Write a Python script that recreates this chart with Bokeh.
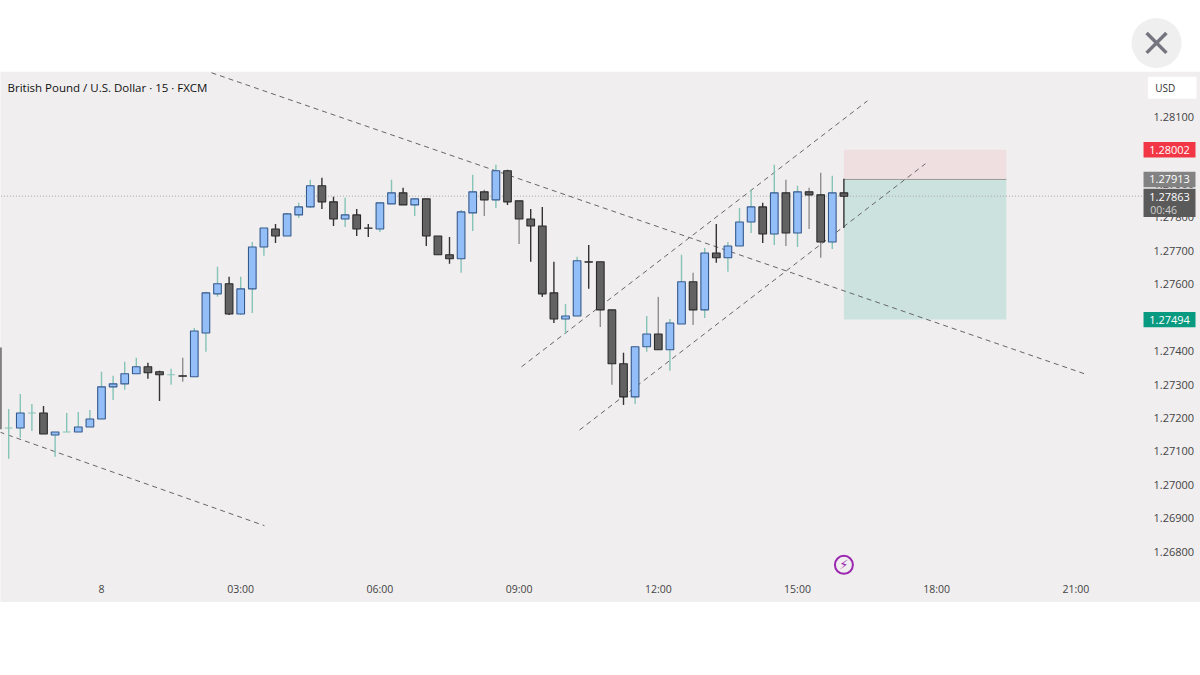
from bokeh.plotting import figure
from bokeh.models import LinearAxis, FixedTicker, Range1d, NumeralTickFormatter
from bokeh.core.properties import value
from bokeh.embed import file_html
from bokeh.resources import INLINE

# Candles: 15-minute bars, index 0 is the "8" day label, each step is 15 minutes
first_bar = -9
opens = [1.27410,1.27170,1.27170,1.27215,1.27215,1.27149,1.27158,1.27158,1.27173,1.27197,
         1.27293,1.27302,1.27332,1.27353,1.27338,1.27329,1.27326,1.27323,1.27454,1.27571,
         1.27601,1.27511,1.27586,1.27711,1.27765,1.27744,1.27807,1.27831,1.27894,1.27846,
         1.27795,1.27807,1.27768,1.27765,1.27840,1.27873,1.27837,1.27855,1.27744,1.27688,
         1.27676,1.27813,1.27876,1.27852,1.27939,1.27849,1.27795,1.27774,1.27574,1.27496,
         1.27505,1.27667,1.27667,1.27523,1.27362,1.27263,1.27413,1.27451,1.27404,1.27481,
         1.27607,1.27523,1.27693,1.27679,1.27714,1.27786,1.27831,1.27750,1.27873,1.27753,
         1.27876,1.27867,1.27726,1.27873]
highs = [1.27410,1.27227,1.27272,1.27242,1.27236,1.27158,1.27215,1.27218,1.27224,1.27338,
         1.27326,1.27368,1.27380,1.27365,1.27341,1.27347,1.27380,1.27469,1.27577,1.27652,
         1.27622,1.27622,1.27726,1.27768,1.27780,1.27813,1.27843,1.27912,1.27918,1.27861,
         1.27858,1.27825,1.27780,1.27843,1.27912,1.27888,1.27855,1.27855,1.27744,1.27741,
         1.27822,1.27927,1.27882,1.27957,1.27942,1.27849,1.27825,1.27831,1.27667,1.27541,
         1.27682,1.27717,1.27667,1.27523,1.27395,1.27413,1.27505,1.27562,1.27496,1.27688,
         1.27634,1.27708,1.27780,1.27726,1.27828,1.27882,1.27843,1.27957,1.27912,1.27894,
         1.27888,1.27933,1.27924,1.27915]
lows = [1.27167,1.27078,1.27141,1.27161,1.27152,1.27084,1.27158,1.27158,1.27173,1.27197,
        1.27254,1.27284,1.27332,1.27317,1.27251,1.27299,1.27308,1.27323,1.27398,1.27562,
        1.27508,1.27508,1.27514,1.27685,1.27723,1.27744,1.27798,1.27828,1.27825,1.27774,
        1.27771,1.27744,1.27741,1.27756,1.27840,1.27837,1.27804,1.27714,1.27688,1.27661,
        1.27634,1.27759,1.27804,1.27828,1.27837,1.27720,1.27667,1.27562,1.27484,1.27451,
        1.27505,1.27586,1.27472,1.27299,1.27239,1.27242,1.27398,1.27404,1.27341,1.27481,
        1.27478,1.27499,1.27664,1.27637,1.27714,1.27753,1.27723,1.27717,1.27714,1.27711,
        1.27765,1.27679,1.27705,1.27768]
closes = [1.27167,1.27170,1.27215,1.27215,1.27152,1.27158,1.27158,1.27173,1.27197,1.27293,
          1.27302,1.27332,1.27353,1.27335,1.27329,1.27329,1.27325,1.27460,1.27574,1.27601,
          1.27511,1.27586,1.27711,1.27768,1.27744,1.27810,1.27831,1.27894,1.27846,1.27795,
          1.27807,1.27765,1.27767,1.27843,1.27873,1.27837,1.27855,1.27744,1.27688,1.27676,
          1.27816,1.27876,1.27852,1.27939,1.27846,1.27795,1.27774,1.27571,1.27496,1.27505,
          1.27670,1.27666,1.27523,1.27362,1.27263,1.27413,1.27451,1.27404,1.27484,1.27607,
          1.27523,1.27693,1.27679,1.27714,1.27786,1.27831,1.27750,1.27873,1.27753,1.27876,
          1.27867,1.27726,1.27873,1.27863]
faded_wicks = [7, 33, 36, 43, 44, 48, 51, 59, 61, 62]

price_ticks = [1.268,1.269,1.270,1.271,1.272,1.273,1.274,1.275,1.276,1.277,1.278,1.279,1.280,1.281]
time_ticks = [0, 12, 24, 36, 48, 60, 72, 84]
time_labels = ["8", "03:00", "06:00", "09:00", "12:00", "15:00", "18:00", "21:00"]

title_text = "British Pound / U.S. Dollar · 15 · FXCM"
last_price = 1.27863
countdown = "00:46"
stop_price = 1.28002
entry_price = 1.27913
target_price = 1.27494
position_start, position_end = 64, 78

trend_x = [[9.48, 85.0], [-8.79, 14.05], [36.21, 66.03], [41.21, 71.03]]
trend_y = [[1.28232, 1.27329], [1.27158, 1.26878], [1.27353, 1.28148], [1.27164, 1.27960]]

# Layout
X0, X1 = -8.707, 94.741
Y0, Y1 = 1.26454, 1.28448
BAND_TOP, BAND_BOTTOM = 1.28235, 1.26650
AXIS_X = 90.0
TAG_L, TAG_R, TAG_MID, TAG_H = 89.83, 94.31, 92.07, 0.00023

BG = "#f0eeef"
UP, UP_EDGE, UP_WICK = "#93bef7", "#355a8c", "#86c4b8"
DN, DN_EDGE, DN_WICK, DN_FADE = "#626262", "#2a2a2a", "#333333", "#8f8f8f"
FONT = "Open Sans"

p = figure(width=1200, height=667, output_backend="svg", toolbar_location=None,
           x_range=Range1d(X0, X1), y_range=Range1d(Y0, Y1),
           x_axis_type=None, y_axis_type=None, min_border=0,
           background_fill_color="white", border_fill_color="white",
           outline_line_color=None)
p.grid.visible = False

# Chart band
p.quad(left=[X0 - 1], right=[X1 + 1], top=[BAND_TOP], bottom=[BAND_BOTTOM], fill_color=BG, line_color=None)

# Position box
p.quad(left=[position_start], right=[position_end], top=[stop_price], bottom=[entry_price],
       fill_color="#efdfe1", line_color=None)
p.quad(left=[position_start], right=[position_end], top=[entry_price], bottom=[target_price],
       fill_color="#cce2de", line_color=None)
p.line([position_start, position_end], [entry_price, entry_price], line_color="#9a9a9a", line_width=1)

# Last price line
p.line([X0 - 1, TAG_L], [last_price, last_price], line_color="#a5a5a5", line_width=1, line_dash=[1, 2])

# Trend lines
for tx, ty in zip(trend_x, trend_y):
    p.line(tx, ty, line_color="#666666", line_width=1, line_dash=[5, 4])

# Candles
idx = [first_bar + k for k in range(len(opens))]
wick_col, body_fill, body_edge = [], [], []
for i, o, c in zip(idx, opens, closes):
    up = c >= o
    wick_col.append(UP_WICK if up else (DN_FADE if i in faded_wicks else DN_WICK))
    body_fill.append(UP if up else DN)
    body_edge.append(UP_WICK if o == c else (UP_EDGE if up else DN_EDGE))
p.segment(idx, lows, idx, highs, line_color=wick_col, line_width=1.4)
p.vbar(x=idx, width=0.66, top=[max(a, b) for a, b in zip(opens, closes)],
       bottom=[min(a, b) for a, b in zip(opens, closes)],
       fill_color=body_fill, line_color=body_edge, line_width=1.1)

# Axes, inside the band
yaxis = LinearAxis(fixed_location=AXIS_X,
                   ticker=FixedTicker(ticks=price_ticks),
                   formatter=NumeralTickFormatter(format="0.00000"))
yaxis.axis_line_color = None
yaxis.major_tick_line_color = None
yaxis.minor_tick_line_color = None
yaxis.major_label_text_font = FONT
yaxis.major_label_text_font_size = "11px"
yaxis.major_label_text_color = "#444444"
yaxis.major_label_standoff = 2
p.add_layout(yaxis, "right")

xaxis = LinearAxis(fixed_location=1.26731,
                   ticker=FixedTicker(ticks=time_ticks),
                   major_label_overrides=dict(zip(time_ticks, time_labels)))
xaxis.axis_line_color = None
xaxis.major_tick_line_color = None
xaxis.minor_tick_line_color = None
xaxis.major_label_text_font = FONT
xaxis.major_label_text_font_size = "10.5px"
xaxis.major_label_text_color = "#444444"
xaxis.major_label_standoff = 1
p.add_layout(xaxis, "below")

# Header
p.text([-8.1], [1.28187], text=[title_text], text_font=value(FONT), text_font_size="11.5px",
       text_color="#111111", text_baseline="middle", text_align="left")

# Price tags
tag_prices = [stop_price, entry_price, target_price]
tag_colors = ["#f23645", "#828282", "#089981"]
p.quad(left=[TAG_L]*3, right=[TAG_R]*3, top=[v + TAG_H for v in tag_prices],
       bottom=[v - TAG_H for v in tag_prices], fill_color=tag_colors, line_color=None, level="annotation")
p.text([TAG_MID]*3, tag_prices, text=[f"{v:.5f}" for v in tag_prices], text_color="white",
       text_font=value(FONT), text_font_size="11px", text_align="center", text_baseline="middle", level="annotation")

p.quad(left=[TAG_L], right=[TAG_R], top=[1.27885], bottom=[1.27801], fill_color="#5a5a5a", line_color=None, level="annotation")
p.text([TAG_MID], [1.27861], text=[f"{last_price:.5f}"], text_color="white", text_font=value(FONT),
       text_font_size="11px", text_align="center", text_baseline="middle", level="annotation")
p.text([90.4], [1.27822], text=[countdown], text_color="#cfcfcf", text_font=value(FONT),
       text_font_size="10.5px", text_align="left", text_baseline="middle", level="annotation")

# USD button
p.quad(left=[90.2], right=[94.4], top=[1.28235 - 0.00015], bottom=[1.28235 - 0.00081], fill_color="white", line_color=None, level="annotation")
p.text([91.7], [1.28187], text=["USD"], text_color="#333333", text_font=value(FONT), text_font_size="10px",
       text_align="center", text_baseline="middle", level="annotation")

# Close button
p.scatter([90.95], [1.28321], marker="circle", size=50, fill_color="#efefef", line_color=None)
p.scatter([90.95], [1.28321], marker="x", size=28, fill_color=None, line_color="#75757f", line_width=3.5)

# Bolt icon
p.scatter([64], [1.26761], marker="circle", size=18, fill_color=None, line_color="#9c27b0", line_width=2)
p.text([64], [1.26761], text=["\u26a1"], text_color="#9c27b0", text_font=value("DejaVu Sans"), text_font_size="13px",
       text_align="center", text_baseline="middle")

open("out.html", "w").write(file_html(p, INLINE))
